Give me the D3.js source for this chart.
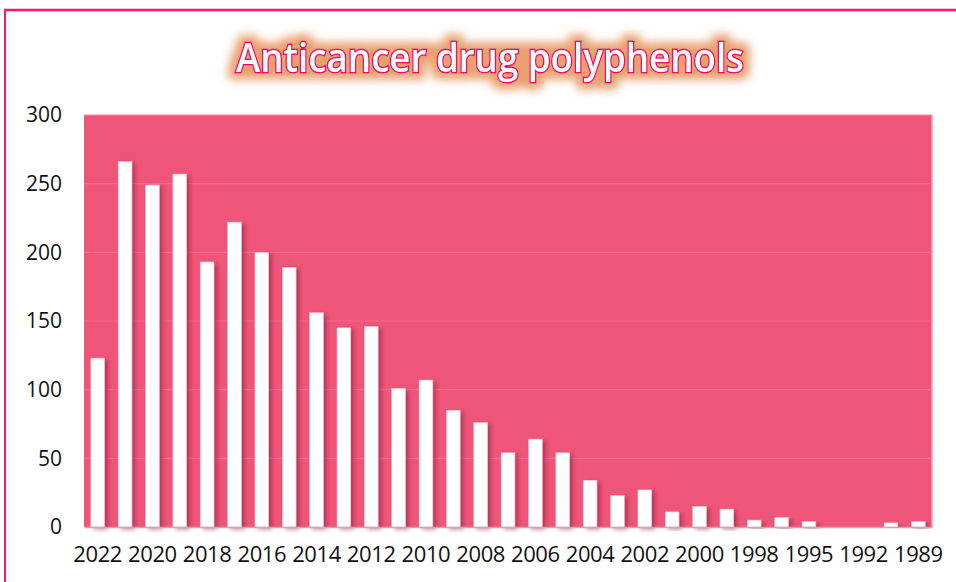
<!DOCTYPE html>
<html>
<head>
<meta charset="utf-8">
<script src="https://cdn.jsdelivr.net/npm/d3@7"></script>
<style>
  body { margin: 0; background: #fff; }
</style>
</head>
<body>
<svg id="svg" width="956" height="582"></svg>
<script>
// data
var years = ["2022","2021","2020","2019","2018","2017","2016","2015","2014","2013","2012",
  "2011","2010","2009","2008","2007","2006","2005","2004","2003","2002","2001","2000",
  "1999","1998","1997","1995","1993","1992","1990","1989"];
var counts = [123,266,249,257,193,222,200,189,156,145,146,
  101,107,85,76,54,64,54,34,23,27,11,15,
  13,5,7,4,0,0,3,4];
var yTicks = [0, 50, 100, 150, 200, 250, 300];
var titleText = "Anticancer drug polyphenols";

var svg = d3.select("#svg");
var margin = {left: 84, top: 115, right: 24, bottom: 55};
var width = +svg.attr("width"), height = +svg.attr("height");
var plotW = 932 - margin.left, plotH = 527 - margin.top;

var defs = svg.append("defs");
var glow = defs.append("filter").attr("id", "glow")
  .attr("x", "-10%").attr("y", "-50%").attr("width", "120%").attr("height", "200%");
glow.append("feMorphology").attr("in", "SourceAlpha").attr("operator", "dilate").attr("radius", 6).attr("result", "fat");
glow.append("feGaussianBlur").attr("in", "fat").attr("stdDeviation", 5).attr("result", "blur");
glow.append("feFlood").attr("flood-color", "#e4884a").attr("flood-opacity", 0.8);
glow.append("feComposite").attr("in2", "blur").attr("operator", "in").attr("result", "glowc");
var mrg = glow.append("feMerge");
mrg.append("feMergeNode").attr("in", "glowc");
mrg.append("feMergeNode").attr("in", "SourceGraphic");

var shadow = defs.append("filter").attr("id", "shadow")
  .attr("x", "-30%").attr("y", "-10%").attr("width", "180%").attr("height", "130%");
shadow.append("feGaussianBlur").attr("in", "SourceAlpha").attr("stdDeviation", 2.2).attr("result", "b");
shadow.append("feOffset").attr("in", "b").attr("dx", 3).attr("dy", 2).attr("result", "o");
shadow.append("feFlood").attr("flood-color", "#8a1b3a").attr("flood-opacity", 0.55);
shadow.append("feComposite").attr("in2", "o").attr("operator", "in").attr("result", "sh");
var m2 = shadow.append("feMerge");
m2.append("feMergeNode").attr("in", "sh");
m2.append("feMergeNode").attr("in", "SourceGraphic");

// outer frame (top + left visible)
svg.append("line").attr("x1", 4).attr("y1", 10).attr("x2", 956).attr("y2", 10)
  .attr("stroke", "#ff1670").attr("stroke-width", 2.5);
svg.append("line").attr("x1", 5).attr("y1", 9).attr("x2", 5).attr("y2", 582)
  .attr("stroke", "#ff1670").attr("stroke-width", 2);

// title
svg.append("text")
  .attr("x", 490).attr("y", 72)
  .attr("text-anchor", "middle")
  .attr("font-family", "Open Sans, sans-serif")
  .attr("font-size", "40px")
  .attr("font-weight", 600)
  .attr("textLength", 508).attr("lengthAdjust", "spacingAndGlyphs")
  .attr("fill", "#fff")
  .attr("stroke", "#f0106a").attr("stroke-width", 3)
  .attr("paint-order", "stroke")
  .attr("filter", "url(#glow)")
  .text(titleText);

var x = d3.scaleBand().domain(years).range([0, plotW]).paddingInner(0.5).paddingOuter(0.25);
var y = d3.scaleLinear().domain([0, 300]).range([plotH, 0]);

var g = svg.append("g").attr("transform", "translate(" + margin.left + "," + margin.top + ")");

g.append("rect").attr("width", plotW).attr("height", plotH).attr("fill", "#ef5579");
g.append("line").attr("x1", plotW).attr("x2", plotW).attr("y1", 0).attr("y2", plotH)
  .attr("stroke", "#f7a0b6").attr("stroke-width", 1.5);
g.append("line").attr("x1", 0).attr("x2", plotW).attr("y1", 0).attr("y2", 0)
  .attr("stroke", "#f58aa5").attr("stroke-width", 1);

// grid
g.selectAll(".grid").data(yTicks.slice(1, -1)).enter().append("line")
  .attr("x1", 0).attr("x2", plotW)
  .attr("y1", function(d) { return y(d); }).attr("y2", function(d) { return y(d); })
  .attr("stroke", "#f36d8e").attr("stroke-width", 1.2);

// bars
g.selectAll(".bar").data(counts).enter().append("rect")
  .attr("x", function(d, i) { return x(years[i]); })
  .attr("y", function(d) { return y(d); })
  .attr("width", x.bandwidth())
  .attr("height", function(d) { return plotH - y(d); })
  .attr("fill", "#fff")
  .attr("stroke", "#f7c2cf").attr("stroke-width", 0.6)
  .attr("filter", function(d) { return d > 0 ? "url(#shadow)" : null; });

// y axis
var yAxis = g.append("g").call(d3.axisLeft(y).tickValues(yTicks).tickSize(0).tickPadding(22));
yAxis.select(".domain").remove();
yAxis.selectAll("text")
  .attr("font-family", "Open Sans, sans-serif")
  .attr("font-size", "21px").attr("fill", "#111");

// x axis, every other label
var xAxis = g.append("g").attr("transform", "translate(0," + plotH + ")")
  .call(d3.axisBottom(x).tickValues(years.filter(function(d, i) { return i % 2 == 0; }))
    .tickSize(0).tickPadding(19));
xAxis.select(".domain").attr("stroke", "#d9a0ae").attr("stroke-width", 1.5);
xAxis.selectAll("text")
  .attr("font-family", "Open Sans, sans-serif")
  .attr("font-size", "22px").attr("fill", "#111")
  .attr("letter-spacing", "-0.4px");
</script>
</body>
</html>
